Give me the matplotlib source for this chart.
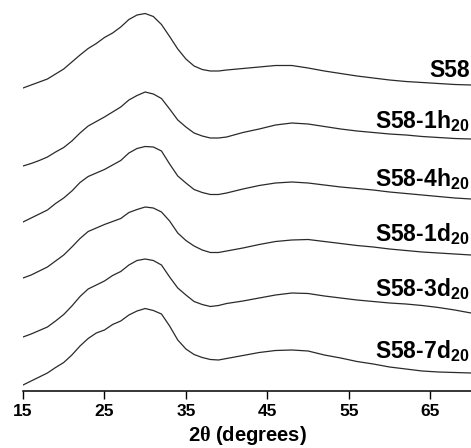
import numpy as np
import matplotlib
matplotlib.use("Agg")
import matplotlib.pyplot as plt
from matplotlib.ticker import MultipleLocator

plt.rcParams['font.family'] = ['Liberation Sans', 'DejaVu Sans']
plt.rcParams['font.weight'] = 'bold'
plt.rcParams['mathtext.fontset'] = 'custom'
plt.rcParams['mathtext.rm'] = 'Liberation Sans:bold'
plt.rcParams['mathtext.bf'] = 'Liberation Sans:bold'
plt.rcParams['mathtext.it'] = 'Liberation Serif'

# 2theta grid (degrees) the patterns were read at
two_theta = [15, 16, 17, 18, 19, 20, 21, 22, 23, 24, 25, 26, 27, 28, 29, 30, 31, 32,
             33, 34, 35, 36, 37, 38, 39, 40, 42, 44, 46, 48, 50, 52, 54, 56, 58, 60,
             62, 64, 66, 68, 70]

# stacked intensities (a.u.), top to bottom
s58 = [303, 306, 309, 312, 317, 322, 329, 336, 342.5, 347.5, 353.5, 358, 364, 371.5,
       376, 377.5, 374.5, 366.5, 354.5, 342, 332, 325, 321.5, 320, 320, 321, 322.5,
       324, 325.5, 325.5, 323, 320, 317.5, 315, 313, 311, 309.5, 308.5, 307.5, 306.5, 306]
s58_1h = [225, 227.5, 230.5, 234, 239, 243.5, 250, 258, 265, 269.5, 274, 279, 284, 291,
          295.5, 299, 297, 292.5, 282, 271, 264, 258, 255, 253, 253, 254, 258.5,
          262, 266, 268, 267, 264.5, 262, 260, 258.5, 257, 256, 254.5, 253.5, 252.5, 252]
s58_4h = [169, 173, 177, 181, 187.5, 193, 200, 208.5, 214.5, 218, 221.5, 226, 230.5, 238,
          242.5, 244.5, 244, 240, 227, 215, 208, 201.5, 198.5, 196.5, 196.5, 198, 202,
          205.5, 208, 209, 208, 206, 204, 202.5, 201, 199, 197.5, 196, 194.5, 193, 192]
s58_1d = [113, 116, 120, 124, 130, 136, 144, 152.5, 159.5, 163, 166.5, 169.5, 172.5, 178.5,
          181.5, 184, 183, 179, 170, 158, 150.5, 145, 141, 138.5, 138.5, 140, 143,
          146.5, 149.5, 151, 151.5, 149.5, 147.5, 145.5, 144, 142, 140.5, 139, 138, 137, 136]
s58_3d = [54, 57, 60.5, 64, 70, 76.5, 85, 94.5, 102, 106, 110, 115.5, 119.5, 126,
          130.5, 132, 130.5, 126, 114, 103, 96, 89.5, 86.5, 84.5, 85.5, 87.5, 90,
          93, 96, 98, 97.5, 95, 93, 91, 89.5, 88, 87, 85.5, 83.5, 81, 78]
s58_7d = [6, 10, 14, 18, 23.5, 28.5, 36, 45, 52.5, 58, 61, 66.5, 70, 76,
          80, 82.5, 80.5, 77, 65, 51, 42, 36.5, 33.5, 31.5, 31, 32.5, 35.5,
          38.5, 40.5, 41, 40, 36, 33, 29.5, 27, 24, 22, 20, 19, 18.5, 18]

series = [s58, s58_1h, s58_4h, s58_1d, s58_3d, s58_7d]
labels = ["S58", r"S58-1h$_{\mathrm{20}}$", r"S58-4h$_{\mathrm{20}}$",
          r"S58-1d$_{\mathrm{20}}$", r"S58-3d$_{\mathrm{20}}$", r"S58-7d$_{\mathrm{20}}$"]
# label baselines (intensity units)
label_y = [314, 262, 204, 149, 94, 32]

fig = plt.figure(figsize=(4.71, 4.48), dpi=100)
ax = fig.add_axes([23 / 471, 57 / 448, 1 - 23 / 471, 391 / 448])

for ys in series:
    ax.plot(two_theta, ys, color='#2a2a2a', lw=0.9)

for lab, ly in zip(labels, label_y):
    ax.text(69.85, ly, lab, fontsize=16.5, fontweight='bold', ha='right', va='baseline')

ax.set_xlim(15, 70)
ax.set_ylim(0, 391)
for side in ['top', 'right', 'left']:
    ax.spines[side].set_visible(False)
ax.spines['bottom'].set_linewidth(1.1)
ax.set_yticks([])
ax.xaxis.set_minor_locator(MultipleLocator(10, offset=5))
ax.set_xticks(np.arange(15, 66, 10))
ax.tick_params(axis='x', which='major', direction='out', length=5.8, width=1.0,
               pad=3.5, labelsize=12.5)
ax.tick_params(axis='x', which='minor', direction='out', length=3.6, width=1.0)
for t in ax.get_xticklabels():
    t.set_fontweight('bold')
ax.set_xlabel(r"2$\theta$ (degrees)", fontsize=14.5, fontweight='bold', labelpad=4)

fig.savefig("out.png", dpi=100)
